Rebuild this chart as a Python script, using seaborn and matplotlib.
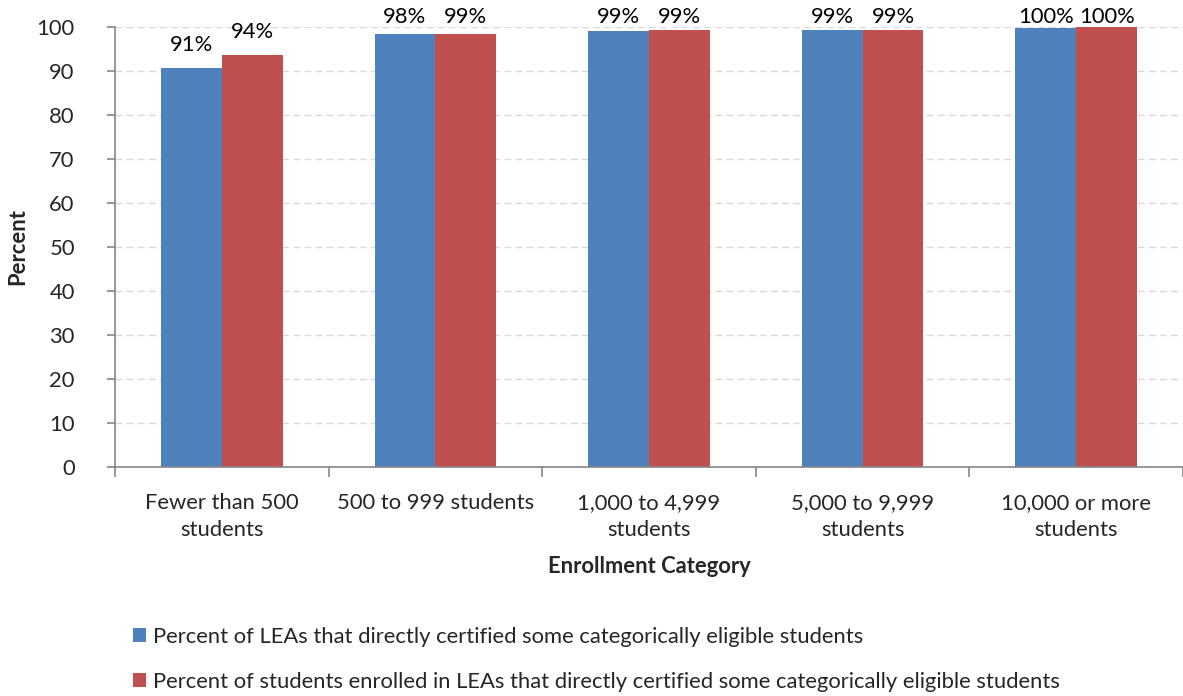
import matplotlib
matplotlib.use("Agg")
import matplotlib.pyplot as plt
import seaborn as sns
import pandas as pd
from matplotlib.patches import Patch
from matplotlib.ticker import FixedLocator, NullFormatter

categories = ["Fewer than 500\nstudents", "500 to 999 students", "1,000 to 4,999\nstudents",
              "5,000 to 9,999\nstudents", "10,000 or more\nstudents"]
series_names = ["Percent of LEAs that directly certified some categorically eligible students",
                "Percent of students enrolled in LEAs that directly certified some categorically eligible students"]
lea_pct = [90.6, 98.3, 99.2, 99.4, 99.8]
student_pct = [93.6, 98.5, 99.3, 99.4, 99.9]
lea_labels = ["91%", "98%", "99%", "99%", "100%"]
student_labels = ["94%", "99%", "99%", "99%", "100%"]
colors = ["#4F81BD", "#C0504D"]

FS = 15.8

df = pd.DataFrame({
    "Category": categories * 2,
    "Series": [series_names[0]] * 5 + [series_names[1]] * 5,
    "Value": lea_pct + student_pct,
})

sns.set_theme(style="white")
plt.rcParams["font.family"] = ["Lato", "DejaVu Sans"]

fig = plt.figure(figsize=(11.83, 6.96), dpi=100)
ax_h_px = 467 - 27
ax = fig.add_axes([115 / 1183, 1 - 467 / 696, 1 - 115 / 1183, ax_h_px / 696])

sns.barplot(data=df, x="Category", y="Value", hue="Series", palette=colors,
            width=0.57, ax=ax, legend=False, saturation=1, linewidth=0)

ax.set_xlim(-0.5, 4.5)
ax.set_ylim(0, 100)

pt_per_unit = ax_h_px / 100 * 72 / 100
for cont, labs, vals in zip(ax.containers, [lea_labels, student_labels], [lea_pct, student_pct]):
    texts = ax.bar_label(cont, labels=labs, padding=0, fontsize=FS, color="#000000")
    for t, v in zip(texts, vals):
        t.xyann = (0, min(9.5, (100 - v) * pt_per_unit))

ax.set_yticks(range(0, 101, 10))
ax.yaxis.grid(True, linestyle=(0, (5, 3)), color="#D9D9D9", linewidth=1)
ax.set_axisbelow(True)
for s in ["top", "right"]:
    ax.spines[s].set_visible(False)
for s in ["left", "bottom"]:
    ax.spines[s].set_color("#868686")
    ax.spines[s].set_linewidth(1.2)

ax.tick_params(axis="y", which="major", length=6, width=1.2, color="#868686", pad=23,
               labelsize=FS, left=True, direction="out")
ax.tick_params(axis="x", which="major", length=0, pad=19, labelsize=FS)
ax.xaxis.set_minor_locator(FixedLocator([-0.5, 0.5, 1.5, 2.5, 3.5, 4.5]))
ax.xaxis.set_minor_formatter(NullFormatter())
ax.tick_params(axis="x", which="minor", length=7, width=1.2, color="#868686", bottom=True, direction="out")
for lbl in ax.get_xticklabels():
    lbl.set_linespacing(1.4)

ax.set_xlabel("Enrollment Category", fontsize=FS, fontweight="bold", labelpad=12)
ax.set_ylabel("Percent", fontsize=FS, fontweight="bold", labelpad=6)

handles = [Patch(facecolor=c, edgecolor="none") for c in colors]
fig.legend(handles, series_names, loc="upper left", bbox_to_anchor=(124 / 1183, 1 - 618 / 696),
           frameon=False, fontsize=FS, handlelength=0.6, handleheight=0.6,
           handletextpad=0.3, labelspacing=1.15, borderaxespad=0)

fig.savefig("out.png", dpi=100)
